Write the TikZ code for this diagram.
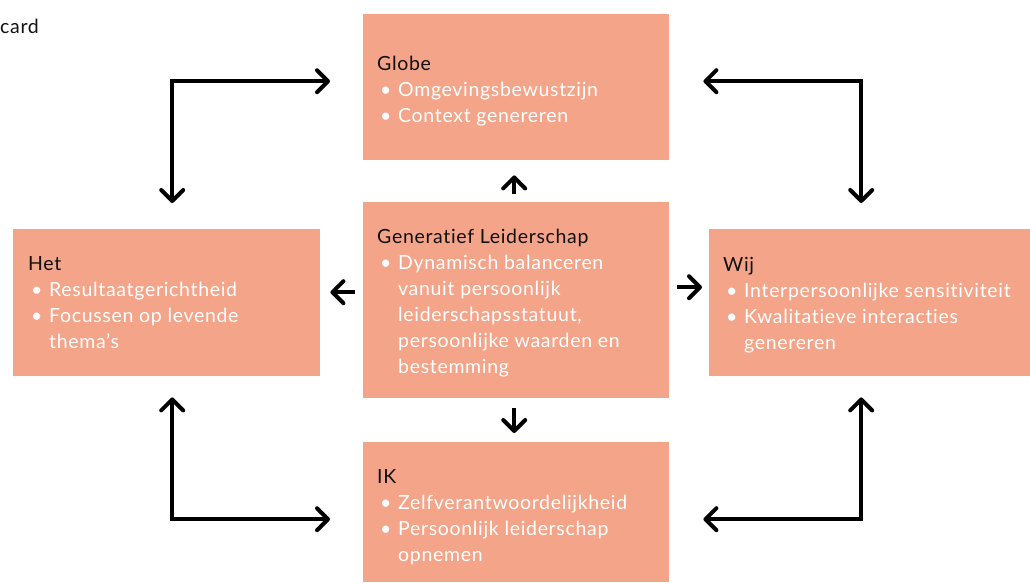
\documentclass[tikz,border=0pt]{standalone}
\usepackage{fontspec}
\setmainfont{Lato}[Ligatures={NoCommon,NoRare,NoDiscretionary},LetterSpace=3.5]
\usetikzlibrary{arrows.meta}
\definecolor{salmon}{HTML}{F4A488}
\definecolor{ink}{HTML}{111111}
\newcommand\bl{\makebox[21pt][l]{\hspace{3pt}•}}
\newcommand\wl[1]{\textcolor{white}{\bl #1}}
\newcommand\wc[1]{\textcolor{white}{\hspace*{21pt}#1}}
\begin{document}
\begin{tikzpicture}[x=1pt,y=-1pt,
  box/.style={fill=salmon, draw=none, inner sep=0pt, anchor=north west},
  txt/.style={anchor=base west, align=left, inner sep=0pt, text=ink, font=\fontsize{19.5}{26}\selectfont},
  >={Straight Barb[length=11pt,width=22pt,round]},
  arr/.style={line width=4pt, draw=black}]
\useasboundingbox (0,0) rectangle (1030,582);

\node[txt] (cap) at (0,33) {card};

\node[box, minimum width=306pt, minimum height=146pt] (globe) at (363,14) {};
\node[box, minimum width=307pt, minimum height=147pt] (het) at (13,229) {};
\node[box, minimum width=306pt, minimum height=196pt] (ctr) at (363,202) {};
\node[box, minimum width=321pt, minimum height=147pt] (wij) at (709,229) {};
\node[box, minimum width=306pt, minimum height=140pt] (ik) at (363,442) {};

% the base anchor of a multi-line node is the baseline of its last line
\node[txt] (tglobe) at (377,122) {Globe\\ \wl{Omgevingsbewustzijn}\\ \wl{Context genereren}};
\node[txt] (thet) at (28,348) {Het\\ \wl{Resultaatgerichtheid}\\ \wl{Focussen op levende}\\ \wc{thema’s}};
\node[txt] (tctr) at (377,373) {Generatief Leiderschap\\ \wl{Dynamisch balanceren}\\ \wc{vanuit persoonlijk}\\ \wc{leiderschapsstatuut,}\\ \wc{persoonlijke waarden en}\\ \wc{bestemming}};
\node[txt] (twij) at (723,349) {Wij\\ \wl{Interpersoonlijke sensitiviteit}\\ \wl{Kwalitatieve interacties}\\ \wc{genereren}};
\node[txt] (tik) at (377,561) {IK\\ \wl{Zelfverantwoordelijkheid}\\ \wl{Persoonlijk leiderschap}\\ \wc{opnemen}};

% elbow arrows
\draw[arr,<->] ([xshift=5.5pt,yshift=26pt]het.north) |- ([xshift=-33pt,yshift=6pt]globe.west);
\draw[arr,<->] ([xshift=34pt,yshift=6pt]globe.east) -| ([xshift=-8.5pt,yshift=26pt]wij.north);
\draw[arr,<->] ([xshift=5.5pt,yshift=-21pt]het.south) |- ([xshift=-33pt,yshift=-7pt]ik.west);
\draw[arr,<->] ([xshift=34pt,yshift=-7pt]ik.east) -| ([xshift=-8.5pt,yshift=-21pt]wij.south);

% short arrows
\draw[arr,->] ([xshift=-2pt,yshift=8pt]ctr.north) -- ([xshift=-2pt,yshift=-15pt]globe.south);
\draw[arr,->] ([xshift=-8pt,yshift=8pt]ctr.west) -- ([xshift=10pt,yshift=10.5pt]het.east);
\draw[arr,->] ([xshift=8pt,yshift=13pt]ctr.east) -- ([xshift=-7pt,yshift=15.5pt]wij.west);
\draw[arr,->] ([xshift=-2pt,yshift=-10pt]ctr.south) -- ([xshift=-2pt,yshift=9pt]ik.north);
\end{tikzpicture}
\end{document}
